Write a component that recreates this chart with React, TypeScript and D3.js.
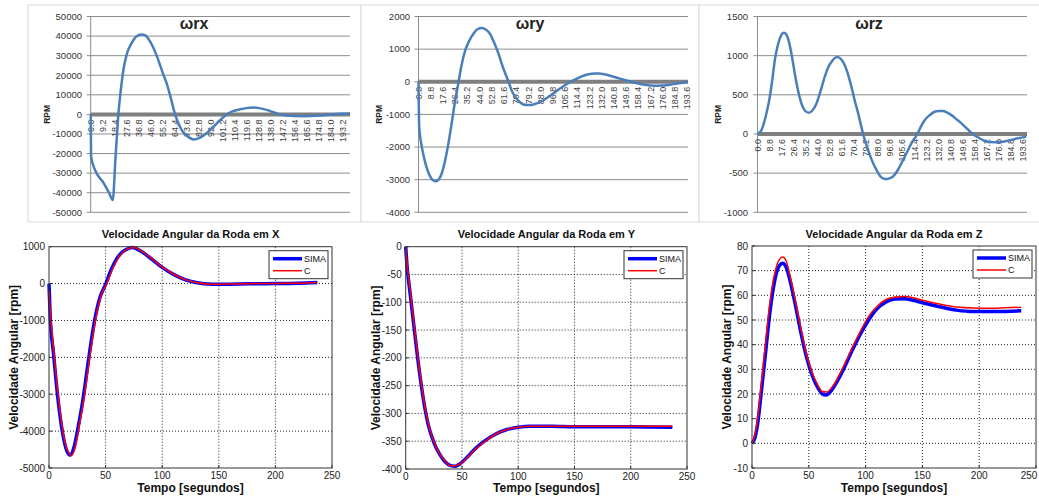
import React from "react";
import * as d3 from "d3";

// ---------- Excel-style panels (top row) ----------
const wrxT = [0, 0.3, 3.3, 9.7, 14, 16.9, 19, 21.2, 23.5, 25.5, 28, 31.4, 35, 39, 42, 44, 48, 51.8, 55, 58.2, 61.5, 64.6, 67.5, 70.5, 74, 78.7, 83.8, 89, 94, 99, 104, 109, 114.4, 119, 124.6, 129, 134.8, 140, 145, 150, 155, 164, 173, 180, 186, 192, 198.6];
const wrxV = [0, -21600, -28400, -34800, -40000, -43700, -22000, 0, 15000, 24500, 31500, 36500, 39800, 40800, 40300, 38800, 34000, 27700, 21500, 15800, 8000, 0, -5000, -8800, -11200, -12800, -11800, -9500, -6300, -3000, 0, 1700, 2600, 3200, 3500, 3200, 2300, 1100, 0, -600, -850, -900, -700, -350, 0, 300, 500];

const wryT = [0, 0.5, 2, 3.6, 6, 8.4, 10.5, 12.5, 14.5, 16.4, 19, 21.6, 24, 26.5, 28.9, 31, 33.7, 36.5, 39.7, 42.5, 45.7, 48.5, 51.7, 54.5, 57.7, 61, 64.9, 67, 69.7, 73, 77, 81, 84, 89, 93.8, 100, 105.8, 113, 118, 122.6, 127, 130, 135, 139.5, 144, 149, 156, 163, 170.8, 177, 182.8, 189, 194.3];
const wryV = [0, -1370, -1900, -2250, -2650, -2900, -3020, -3050, -3000, -2850, -2450, -1880, -1250, -560, 0, 500, 960, 1250, 1480, 1610, 1650, 1600, 1460, 1200, 860, 430, 0, -250, -460, -620, -710, -710, -680, -590, -460, -270, -100, 70, 170, 230, 255, 255, 220, 170, 110, 50, -30, -90, -120, -115, -80, -40, -10];

const wrzT = [0, 2.9, 5.3, 7, 9, 11, 12.6, 14.5, 16.3, 19.2, 21, 22.3, 24.5, 27.2, 29.5, 32, 34.5, 37.4, 40, 43, 46, 49, 51.5, 53.9, 56, 58.3, 60.3, 62.4, 65.5, 68.5, 71, 73.4, 75.2, 77, 80.6, 83.5, 86.7, 89.5, 92.8, 95.5, 98.9, 102, 105, 108.5, 112.2, 116.6, 119, 122, 125.5, 129.2, 132, 135.3, 138, 141.4, 145, 148.7, 153, 157, 161, 165.7, 170, 175.4, 180, 185, 190, 196];
const wrzV = [0, 50, 178, 300, 475, 720, 940, 1110, 1220, 1292, 1270, 1216, 1050, 771, 560, 390, 300, 271, 300, 390, 550, 729, 850, 920, 965, 983, 965, 920, 790, 602, 420, 263, 130, 0, -203, -340, -458, -540, -576, -570, -542, -470, -373, -250, -119, 0, 90, 178, 240, 284, 295, 292, 275, 241, 190, 136, 65, 0, -45, -89, -102, -106, -95, -76, -55, -34];

const wrxCategoryLabels = ["0.0", "9.2", "18.4", "27.6", "36.8", "46.0", "55.2", "64.4", "73.6", "82.8", "92.0", "101.2", "110.4", "119.6", "128.8", "138.0", "147.2", "156.4", "165.6", "174.8", "184.0", "193.2"];
const wryzCategoryLabels = ["0.0", "8.8", "17.6", "26.4", "35.2", "44.0", "52.8", "61.6", "70.4", "79.2", "88.0", "96.8", "105.6", "114.4", "123.2", "132.0", "140.8", "149.6", "158.4", "167.2", "176.0", "184.8", "193.6"];

const wrxTicks = [-50000, -40000, -30000, -20000, -10000, 0, 10000, 20000, 30000, 40000, 50000];
const wryTicks = [-4000, -3000, -2000, -1000, 0, 1000, 2000];
const wrzTicks = [-1000, -500, 0, 500, 1000, 1500];

// ---------- MATLAB-style panels (bottom row) ----------
const xSimaT = [0, 1, 4, 8, 12, 16, 19, 22, 26, 30, 35, 40, 45, 50, 55, 60, 65, 70, 74, 80, 90, 100, 110, 120, 130, 140, 150, 160, 180, 200, 220, 237];
const xSimaV = [0, -850, -1900, -3150, -4050, -4550, -4650, -4450, -3850, -3150, -2050, -1050, -380, -20, 380, 680, 860, 950, 975, 900, 680, 440, 250, 110, 30, -10, -20, -15, -5, 0, 10, 30];
const xCT = [0, 1, 4, 8, 12, 16, 20, 23, 27, 31, 36, 41, 46, 51, 56, 61, 66, 71, 75, 81, 91, 101, 111, 121, 131, 141, 150, 160, 180, 200, 220, 237];
const xCV = [-200, -700, -1750, -3000, -3950, -4500, -4650, -4450, -3800, -3100, -2000, -1000, -330, 0, 390, 690, 870, 955, 975, 895, 670, 430, 240, 100, 25, -10, -15, -10, 0, 5, 10, 30];

const ySimaT = [0, 1, 4, 8, 12, 16, 20, 25, 30, 35, 40, 44, 48, 55, 60, 70, 80, 90, 100, 110, 130, 150, 200, 237];
const ySimaV = [0, -30, -85, -155, -222, -278, -320, -352, -373, -387, -394, -395, -391, -378, -367, -350, -337, -329, -325, -323, -323, -324, -324, -325];
const yCT = [0, 1, 4, 8, 12, 16, 20, 25, 30, 35, 40, 44, 48, 55, 60, 70, 80, 90, 100, 110, 130, 150, 200, 237];
const yCV = [0, -25, -80, -150, -218, -275, -318, -351, -372, -386, -394, -394, -391, -379, -368, -351, -337, -329, -325, -323, -323, -323, -323, -323];

const zSimaT = [0, 2.4, 5, 8, 12, 16, 20, 24, 27, 30, 34, 38, 43, 48, 53, 58, 62, 65, 70, 76, 82, 88, 95, 102, 110, 118, 126, 134, 142, 150, 165, 180, 195, 215, 237];
const zSimaV = [0, 2, 8, 20, 37, 54, 66, 72, 73, 71.5, 65, 56.5, 45, 35, 27.5, 22.5, 20, 19.6, 21.5, 26, 31.5, 37.5, 44, 49.5, 54.5, 57.3, 58.5, 58.6, 58, 57, 55.4, 54, 53.4, 53.4, 53.7];
const zCT = [0, 2, 5, 8, 12, 16, 20, 24, 27, 30, 34, 38, 43, 48, 53, 58, 62, 66, 70, 76, 82, 88, 95, 102, 110, 118, 126, 134, 142, 150, 165, 180, 195, 215, 237];
const zCV = [0, 2.5, 10, 23, 41, 58, 69, 74.5, 75.5, 74, 67, 58, 46.5, 36, 28.5, 23.5, 21, 20.8, 22.5, 27, 32.5, 38.5, 45, 51, 55.5, 58.3, 59.3, 59.5, 59, 58, 56.5, 55.3, 54.9, 54.8, 55.2];

const timeTicks = [0, 50, 100, 150, 200, 250];
const xWheelTicks = [-5000, -4000, -3000, -2000, -1000, 0, 1000];
const yWheelTicks = [-400, -350, -300, -250, -200, -150, -100, -50, 0];
const zWheelTicks = [-10, 0, 10, 20, 30, 40, 50, 60, 70, 80];

const seriesNames = ["SIMA", "C"];

const FONT = "'Liberation Sans', Arial, sans-serif";
const W = 1039;

type ExcelProps = {
  frame: [number, number, number, number];
  left: number; right: number; top: number; bottom: number;
  xMax: number; yDomain: [number, number];
  ticks: number[]; cats: string[]; t: number[]; v: number[];
  title: string; titleX: number; labelRight: number; rpmX: number;
};

function ExcelPanel(p: ExcelProps) {
  const x = d3.scaleLinear().domain([0, p.xMax]).range([p.left, p.right]);
  const y = d3.scaleLinear().domain(p.yDomain).range([p.bottom, p.top]);
  const pts = p.t.map((t, i) => [t, p.v[i]] as [number, number]);
  const line = d3.line<[number, number]>().x(d => x(d[0])).y(d => y(d[1])).curve(d3.curveMonotoneX);
  const y0 = y(0);
  return (
    <g>
      <rect x={p.frame[0]} y={p.frame[1]} width={p.frame[2] - p.frame[0]} height={p.frame[3] - p.frame[1]} fill="#fff" stroke="#d9d9d9" />
      {p.ticks.map(tk => (
        <g key={tk}>
          <line x1={p.left - 4} x2={p.right} y1={y(tk)} y2={y(tk)} stroke="#8c8c8c" strokeWidth={1} />
          <text x={p.labelRight} y={y(tk)} dy="0.35em" textAnchor="end" fontSize={9.5} fill="#333" fontFamily={FONT}>{tk}</text>
        </g>
      ))}
      <line x1={p.left} x2={p.left} y1={p.top} y2={p.bottom} stroke="#8c8c8c" />
      <line x1={p.left} x2={p.right} y1={y0} y2={y0} stroke="#7f7f7f" strokeWidth={4} />
      {p.cats.map(c => (
        <text key={c} transform={`translate(${x(parseFloat(c))},${y0 + 5}) rotate(-90)`} dy="0.35em" textAnchor="end" fontSize={9} fill="#404040" fontFamily={FONT}>{c}</text>
      ))}
      <path d={line(pts) || ""} fill="none" stroke="#4a7ebb" strokeWidth={2.5} strokeLinejoin="round" />
      <text x={p.titleX} y={29} textAnchor="middle" fontSize={16} fontWeight="bold" fill="#222" fontFamily={FONT}>{p.title}</text>
      <text transform={`translate(${p.rpmX},${(p.top + p.bottom) / 2}) rotate(-90)`} dy="0.35em" textAnchor="middle" fontSize={8.5} fontWeight="bold" fill="#222" fontFamily={FONT}>RPM</text>
    </g>
  );
}

type MatProps = {
  left: number; right: number; top: number; bottom: number;
  yDomain: [number, number]; yTicks: number[];
  st: number[]; sv: number[]; ct: number[]; cv: number[];
  title: string; ylabelX: number;
};

function MatlabPanel(p: MatProps) {
  const x = d3.scaleLinear().domain([0, 250]).range([p.left, p.right]);
  const y = d3.scaleLinear().domain(p.yDomain).range([p.bottom, p.top]);
  const line = d3.line<[number, number]>().x(d => x(d[0])).y(d => y(d[1])).curve(d3.curveMonotoneX);
  const sPts = p.st.map((t, i) => [t, p.sv[i]] as [number, number]);
  const cPts = p.ct.map((t, i) => [t, p.cv[i]] as [number, number]);
  const cx = (p.left + p.right) / 2;
  const lx = p.right - 63, ly = p.top + 4;
  return (
    <g fontFamily={FONT}>
      <rect x={p.left} y={p.top} width={p.right - p.left} height={p.bottom - p.top} fill="#fff" />
      {timeTicks.slice(1, -1).map(t => (
        <line key={"gx" + t} x1={x(t)} x2={x(t)} y1={p.top} y2={p.bottom} stroke="#222" strokeDasharray="1,2" />
      ))}
      {p.yTicks.slice(1, -1).map(v => (
        <line key={"gy" + v} x1={p.left} x2={p.right} y1={y(v)} y2={y(v)} stroke="#222" strokeDasharray="1,2" />
      ))}
      <path d={line(sPts) || ""} fill="none" stroke="#0000ff" strokeWidth={3.5} strokeLinejoin="round" />
      <path d={line(cPts) || ""} fill="none" stroke="#ff0000" strokeWidth={1.5} strokeLinejoin="round" />
      <rect x={p.left} y={p.top} width={p.right - p.left} height={p.bottom - p.top} fill="none" stroke="#333" />
      {timeTicks.map(t => (
        <g key={"tx" + t}>
          <line x1={x(t)} x2={x(t)} y1={p.bottom} y2={p.bottom - 3} stroke="#333" />
          <text x={Math.min(x(t), W - 10)} y={p.bottom + 11} textAnchor="middle" fontSize={10} fill="#222">{t}</text>
        </g>
      ))}
      {p.yTicks.map(v => (
        <g key={"ty" + v}>
          <line x1={p.left} x2={p.left + 3} y1={y(v)} y2={y(v)} stroke="#333" />
          <text x={p.left - 4} y={y(v)} dy="0.35em" textAnchor="end" fontSize={10} fill="#222">{v}</text>
        </g>
      ))}
      <text x={cx} y={238} textAnchor="middle" fontSize={11} fontWeight="bold" fill="#111">{p.title}</text>
      <text x={cx} y={492} textAnchor="middle" fontSize={12} fontWeight="bold" fill="#111">Tempo [segundos]</text>
      <text transform={`translate(${p.ylabelX},${(p.top + p.bottom) / 2}) rotate(-90)`} dy="0.35em" textAnchor="middle" fontSize={12} fontWeight="bold" fill="#111">Velocidade Angular [rpm]</text>
      <rect x={lx} y={ly} width={59} height={28} fill="#fff" stroke="#333" />
      <line x1={lx + 4} x2={lx + 33} y1={ly + 8} y2={ly + 8} stroke="#0000ff" strokeWidth={3.5} />
      <text x={lx + 35} y={ly + 8} dy="0.35em" fontSize={9} fill="#111">{seriesNames[0]}</text>
      <line x1={lx + 4} x2={lx + 33} y1={ly + 20} y2={ly + 20} stroke="#ff0000" strokeWidth={1.5} />
      <text x={lx + 35} y={ly + 20} dy="0.35em" fontSize={9} fill="#111">{seriesNames[1]}</text>
    </g>
  );
}

export default function App() {
  return (
    <svg width={W} height={498} style={{ position: "absolute", left: 0, top: 0, background: "#fff" }}>
      <rect x={0} y={0} width={W} height={498} fill="#fff" />
      <ExcelPanel frame={[28, 5, 361, 222]} left={90.7} right={350} top={16.5} bottom={212.3} xMax={198.6} yDomain={[-50000, 50000]} ticks={wrxTicks} cats={wrxCategoryLabels} t={wrxT} v={wrxV} title="ωrx" titleX={194} labelRight={82} rpmX={47} />
      <ExcelPanel frame={[361, 5, 699, 222]} left={418.5} right={688} top={16.5} bottom={212.3} xMax={194.3} yDomain={[-4000, 2000]} ticks={wryTicks} cats={wryzCategoryLabels} t={wryT} v={wryV} title="ωry" titleX={530} labelRight={410} rpmX={379} />
      <ExcelPanel frame={[699, 5, 1045, 222]} left={757.5} right={1027} top={16.5} bottom={212.3} xMax={196.5} yDomain={[-1000, 1500]} ticks={wrzTicks} cats={wryzCategoryLabels} t={wrzT} v={wrzV} title="ωrz" titleX={869} labelRight={748} rpmX={718} />
      <MatlabPanel left={49} right={332} top={246.7} bottom={468} yDomain={[-5000, 1000]} yTicks={xWheelTicks} st={xSimaT} sv={xSimaV} ct={xCT} cv={xCV} title="Velocidade Angular da Roda em X" ylabelX={14} />
      <MatlabPanel left={405.7} right={687} top={246.7} bottom={469} yDomain={[-400, 0]} yTicks={yWheelTicks} st={ySimaT} sv={ySimaV} ct={yCT} cv={yCV} title="Velocidade Angular da Roda em Y" ylabelX={376} />
      <MatlabPanel left={752} right={1036} top={246} bottom={468} yDomain={[-10, 80]} yTicks={zWheelTicks} st={zSimaT} sv={zSimaV} ct={zCT} cv={zCV} title="Velocidade Angular da Roda em Z" ylabelX={727} />
    </svg>
  );
}
